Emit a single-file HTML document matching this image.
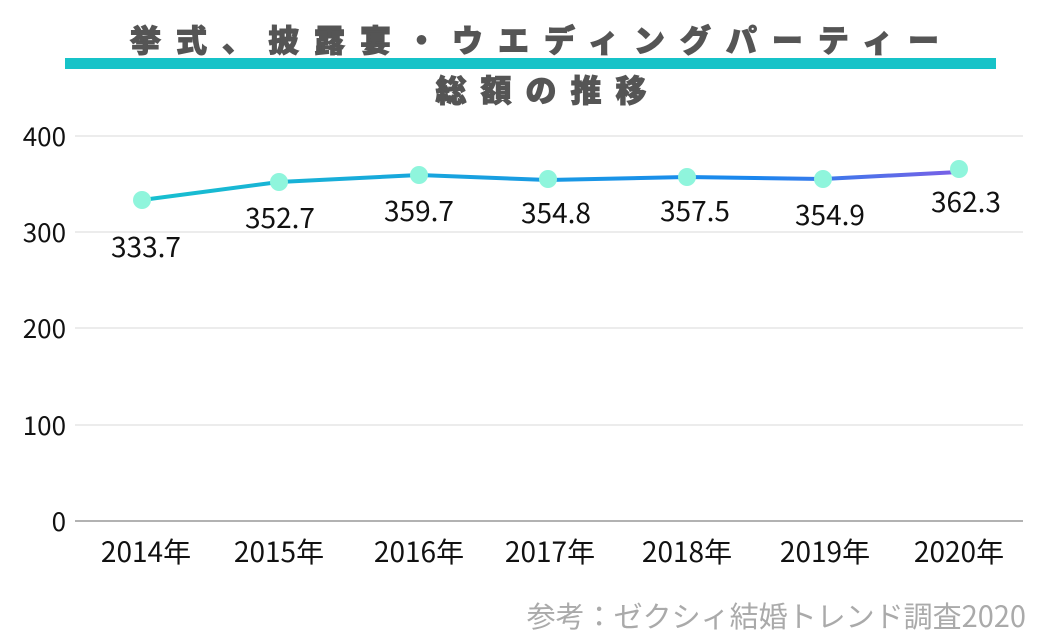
<!DOCTYPE html>
<html><head><meta charset="utf-8"><style>
html,body{margin:0;padding:0;background:#fff;}
svg{display:block;font-family:"Noto Sans CJK JP","Liberation Sans",sans-serif;}
</style></head><body>
<svg width="1040" height="642" viewBox="0 0 1040 642" xmlns="http://www.w3.org/2000/svg">
<defs><linearGradient id="g" x1="142" y1="0" x2="959" y2="0" gradientUnits="userSpaceOnUse">
<stop offset="0" stop-color="#17c0cf"/><stop offset="0.75" stop-color="#1a86ee"/><stop offset="1" stop-color="#7b5fe6"/></linearGradient></defs>
<text x="542" y="52" text-anchor="middle" font-size="31" font-weight="900" fill="#555" stroke="#555" stroke-width="1" letter-spacing="15">挙式、披露宴・ウエディングパーティー</text>
<rect x="65" y="58" width="931" height="11" fill="#17c3c8"/>
<text x="548" y="102" text-anchor="middle" font-size="31" font-weight="900" fill="#555" stroke="#555" stroke-width="1" letter-spacing="14">総額の推移</text>
<g stroke="#d9d9d9" stroke-width="1">
<line x1="75" y1="136" x2="1023" y2="136"/><line x1="75" y1="232" x2="1023" y2="232"/>
<line x1="75" y1="328" x2="1023" y2="328"/><line x1="75" y1="425" x2="1023" y2="425"/>
</g>
<line x1="75" y1="521" x2="1023" y2="521" stroke="#999" stroke-width="1.5"/>
<g font-size="26" fill="#111" text-anchor="end">
<text x="66" y="146">400</text><text x="66" y="242">300</text><text x="66" y="338">200</text><text x="66" y="435">100</text><text x="66" y="531">0</text>
</g>
<polyline fill="none" stroke="url(#g)" stroke-width="4" points="142,200 279,182 419,175 548,180 687,177 823,179 959,172"/>
<g fill="#8ff5dc">
<circle cx="142" cy="200" r="9"/><circle cx="279" cy="182" r="9"/><circle cx="419" cy="175" r="9"/><circle cx="548" cy="179" r="9"/><circle cx="687" cy="177" r="9"/><circle cx="823" cy="179" r="9"/><circle cx="959" cy="169" r="9"/>
</g>
<g font-size="28" fill="#111" text-anchor="middle">
<text x="146" y="257">333.7</text><text x="280" y="228">352.7</text><text x="419" y="221">359.7</text><text x="556" y="223">354.8</text><text x="695" y="221">357.5</text><text x="830" y="225">354.9</text><text x="966" y="212">362.3</text>
</g>
<g font-size="28" fill="#111" text-anchor="middle">
<text x="146" y="562">2014年</text><text x="279" y="562">2015年</text><text x="419" y="562">2016年</text><text x="550" y="562">2017年</text><text x="687" y="562">2018年</text><text x="825" y="562">2019年</text><text x="959" y="562">2020年</text>
</g>
<text x="1026" y="627" text-anchor="end" font-size="29" fill="#aaa">参考：ゼクシィ結婚トレンド調査2020</text>
</svg>
</body></html>
